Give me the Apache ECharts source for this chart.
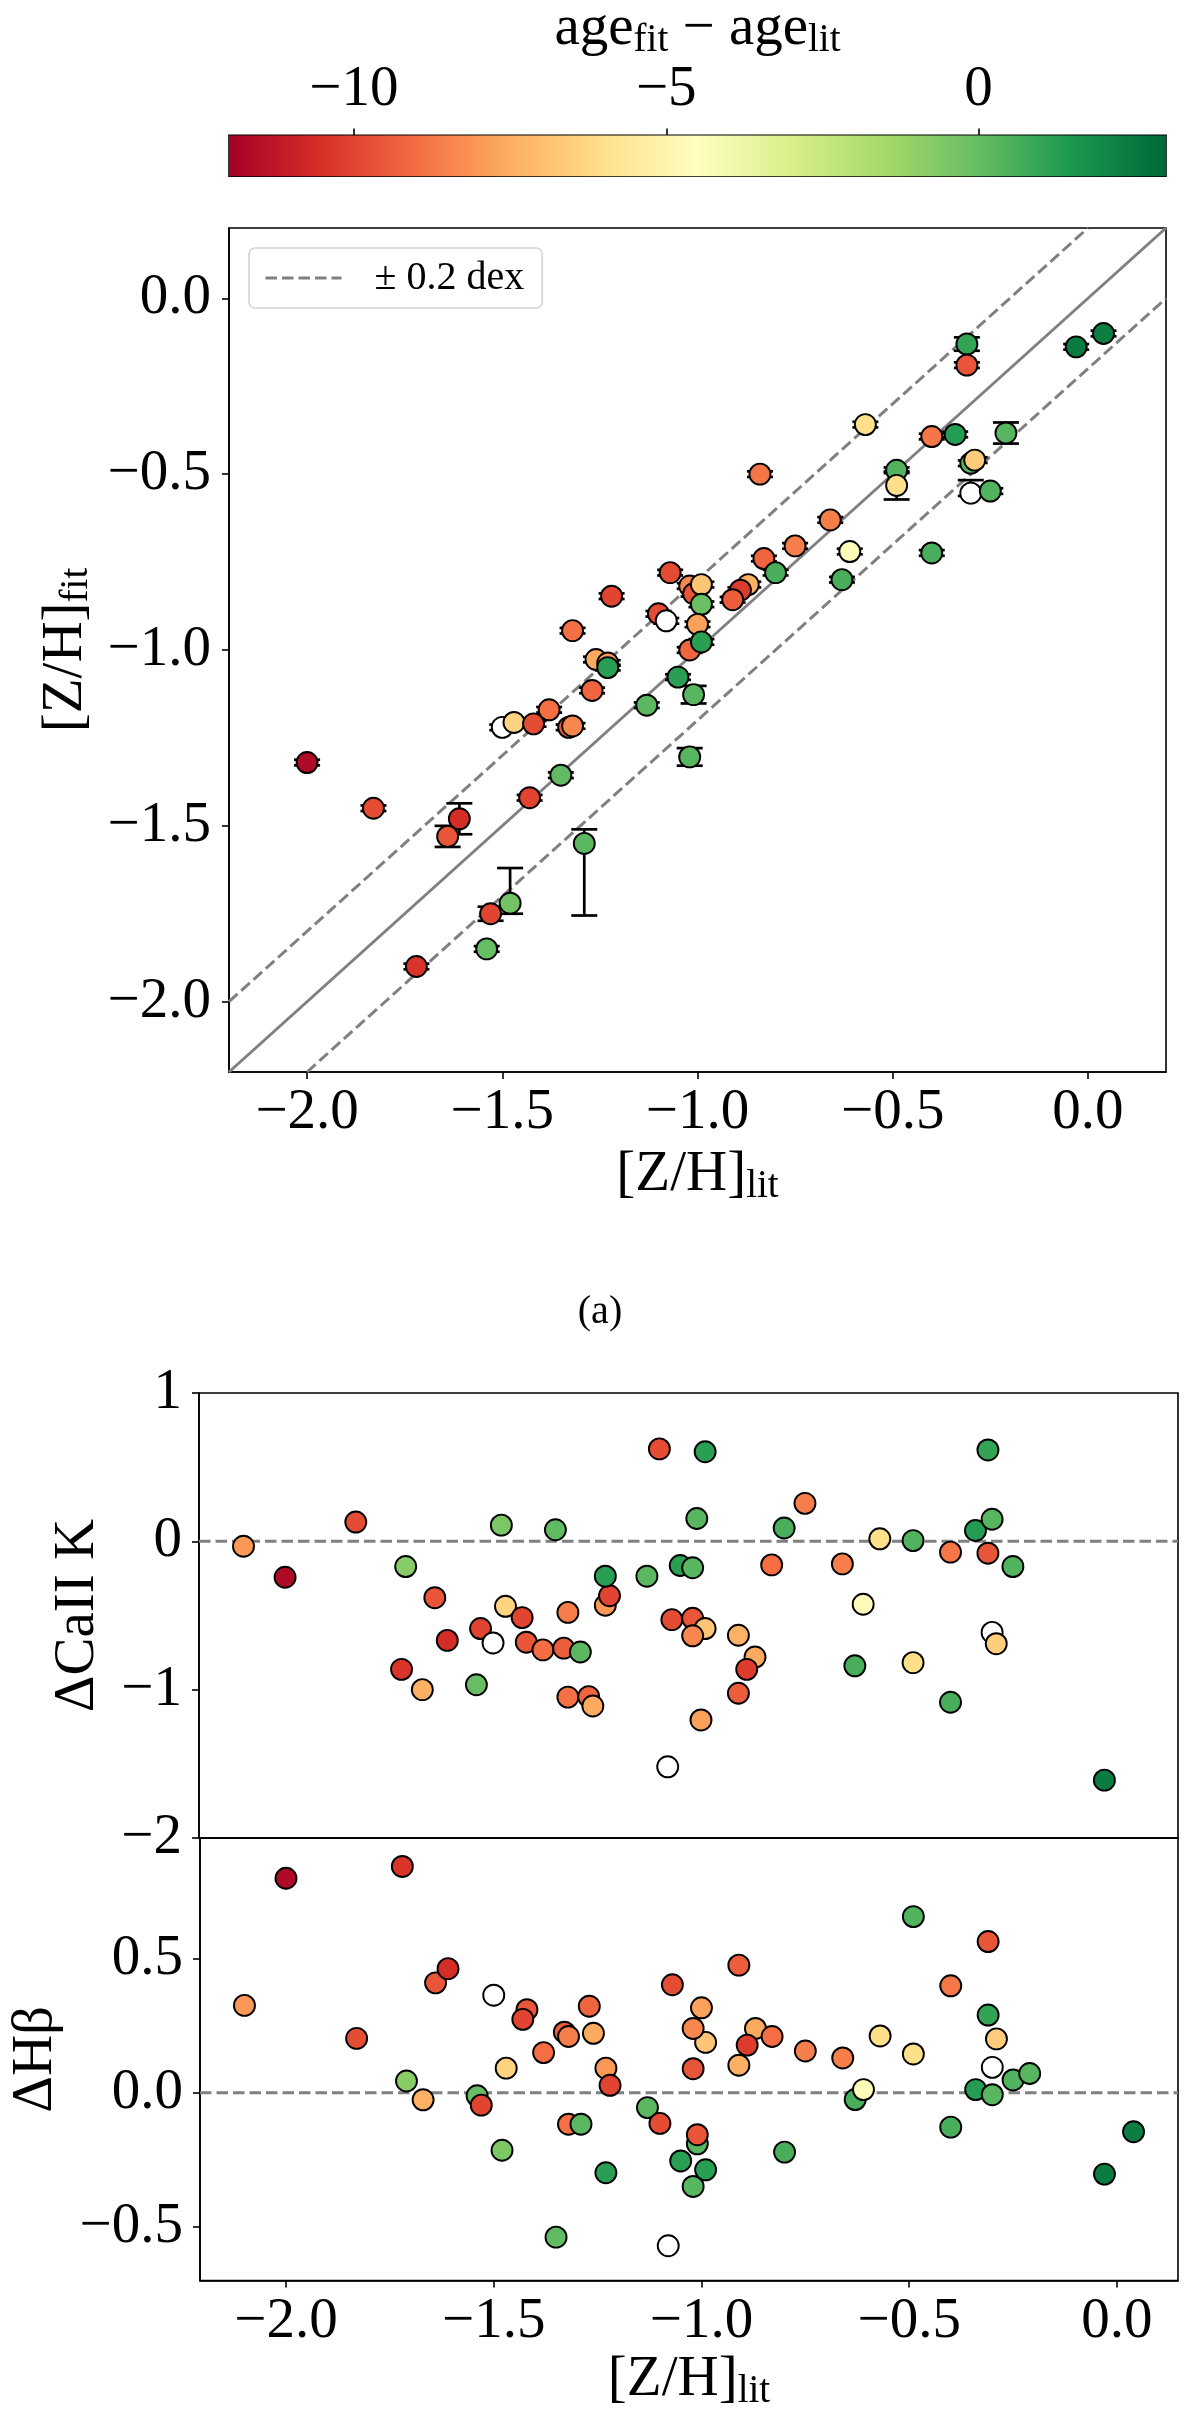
<!DOCTYPE html>
<html><head><meta charset="utf-8">
<script src="https://cdn.jsdelivr.net/npm/echarts@6/dist/echarts.min.js"></script>
<style>html,body{margin:0;padding:0;background:#fff}#c{width:1200px;height:2412px}</style>
</head><body><div id="c"></div>
<script>
// ---------- data ----------
const ageRange = [-12, 3];
const cbTicks = [-10, -5, 0];
const topRange = [-2.2, 0.2];
const topTicks = [-2, -1.5, -1, -0.5, 0];
const lowXRange = [-2.207, 0.147];
const midYRange = [-2, 1];
const botYRange = [-0.7, 0.95];
const botYTicks = [-0.5, 0, 0.5];
const dexOffset = 0.2;
const RdYlGn = ['#a50026','#d73027','#f46d43','#fdae61','#fee08b','#ffffbf','#d9ef8b','#a6d96a','#66bd63','#1a9850','#006837'];

const topLit = [-2.00,-1.83,-1.61,-1.64,-1.72,-1.53,-1.48,-1.54,-1.29,-1.43,
  -1.35,-1.50,-1.47,-1.42,-1.38,-1.33,-1.32,-1.27,-1.26,-1.23,
  -1.23,-1.32,-1.22,-1.13,-1.10,-1.08,-1.07,-1.05,-1.02,-1.01,
  -1.02,-1.02,-1.01,-0.99,-0.99,-1.00,-0.99,-0.84,-0.83,-0.80,
  -0.87,-0.89,-0.91,-0.75,-0.66,-0.63,-0.61,-0.57,-0.49,-0.49,
  -0.40,-0.34,-0.40,-0.31,-0.31,-0.30,-0.29,-0.30,-0.25,-0.21,
  -0.03,0.04];
const topFit = [-1.32,-1.45,-1.48,-1.53,-1.90,-1.75,-1.72,-1.85,-1.55,-1.42,
  -1.356,-1.22,-1.206,-1.21,-1.17,-1.22,-1.216,-1.115,-1.027,-1.037,
  -1.05,-0.945,-0.847,-1.157,-0.897,-0.917,-0.78,-1.077,-1.00,-1.127,
  -1.304,-0.818,-0.84,-0.814,-0.87,-0.927,-0.977,-0.50,-0.74,-0.78,
  -0.814,-0.83,-0.857,-0.704,-0.63,-0.80,-0.72,-0.359,-0.489,-0.532,
  -0.393,-0.387,-0.724,-0.13,-0.19,-0.469,-0.46,-0.554,-0.548,-0.383,
  -0.138,-0.10];
const topAge = [-11.7,-9.8,-10.6,-9.6,-10.4,-10.0,-0.3,0,0.2,-10.0,
  0.1,null,-6.4,-9.8,-9.0,-9.4,-8.4,-9.2,-7.6,-8.0,
  1.2,-8.9,-10.0,0.2,-9.8,null,-9.8,1.2,-9.2,0.3,
  0.3,-8.4,-9.6,-6.8,-0.1,-7.8,1.2,-8.8,-9.2,0.6,
  -7.4,-10.2,-9.4,-8.6,-8.6,0.6,-4.7,-6.0,0.4,-6.0,
  -8.8,1.3,0.6,1.0,-9.6,0.3,-6.6,null,0.4,0.3,
  2.4,2.3];
const topErrLo = [0.008,0.008,0.044,0.03,0.008,0.02,0.03,0.008,0.205,0.008,
  0.008,0.008,0.008,0.008,0.008,0.008,0.008,0.008,0.008,0.008,
  0.008,0.008,0.008,0.008,0.008,0.008,0.008,0.008,0.008,0.025,
  0.025,0.008,0.008,0.008,0.008,0.008,0.008,0.008,0.008,0.008,
  0.008,0.008,0.008,0.008,0.008,0.008,0.008,0.008,0.008,0.04,
  0.008,0.008,0.008,0.019,0.008,0.008,0.008,0.008,0.008,0.03,
  0.008,0.008];
const topErrHi = [0.008,0.008,0.044,0.03,0.008,0.02,0.10,0.008,0.04,0.008,
  0.008,0.008,0.008,0.008,0.008,0.008,0.008,0.008,0.008,0.008,
  0.008,0.008,0.008,0.008,0.008,0.008,0.008,0.008,0.008,0.025,
  0.025,0.008,0.008,0.008,0.008,0.008,0.008,0.008,0.008,0.008,
  0.008,0.008,0.008,0.008,0.008,0.008,0.008,0.008,0.008,0.04,
  0.008,0.008,0.008,0.019,0.008,0.008,0.008,0.037,0.008,0.03,
  0.008,0.008];

const midLit = [-2.10,-2.00,-1.83,-1.71,-1.64,-1.61,-1.72,-1.67,-1.54,-1.53,
  -1.50,-1.48,-1.47,-1.43,-1.42,-1.38,-1.35,-1.33,-1.32,-1.29,
  -1.32,-1.27,-1.26,-1.23,-1.22,-1.23,-1.13,-1.10,-1.08,-1.07,
  -1.05,-1.02,-1.01,-0.99,-1.02,-0.99,-1.02,-1.00,-0.91,-0.87,
  -0.89,-0.91,-0.83,-0.80,-0.75,-0.66,-0.63,-0.61,-0.57,-0.49,
  -0.49,-0.40,-0.40,-0.34,-0.31,-0.30,-0.31,-0.30,-0.29,-0.25,
  -0.03];
const midCaK = [-0.033,-0.242,0.13,-0.17,-0.38,-0.668,-0.863,-1.0,-0.967,-0.588,
  -0.685,0.109,-0.438,-0.514,-0.68,-0.732,0.078,-0.72,-0.479,-0.746,
  -1.05,-1.047,-1.11,-0.431,-0.367,-0.235,-0.235,0.623,-1.52,-0.528,
  -0.163,-0.178,0.154,0.604,-0.519,-0.588,-0.637,-1.204,-0.633,-0.78,
  -0.863,-1.024,-0.159,0.09,0.256,-0.152,-0.839,-0.424,0.017,0.005,
  -0.818,-0.073,-1.085,0.073,0.616,0.149,-0.08,-0.614,-0.69,-0.17,
  -1.61];
const midAge = [-8.0,-11.7,-9.8,-0.8,-9.6,-10.6,-10.4,-7.4,0,-10.0,
  null,-0.5,-6.4,-10.0,-9.6,-9.0,0.1,-9.4,-8.6,0.2,
  -8.9,-9.2,-7.6,-8.0,-10.0,1.2,0.2,-9.8,null,-9.8,
  1.2,0.3,0.3,1.2,-9.6,-6.8,-8.4,-7.8,-7.4,-7.6,
  -10.2,-9.4,-9.0,0.6,-8.6,-8.6,0.6,-4.7,-6.0,0.4,
  -6.0,-8.8,0.6,1.3,1.0,0.3,-9.6,null,-6.6,0.4,
  2.4];

const botLit = [-2.10,-2.00,-1.83,-1.72,-1.71,-1.67,-1.64,-1.61,-1.54,-1.53,
  -1.50,-1.48,-1.47,-1.42,-1.43,-1.38,-1.35,-1.33,-1.32,-1.32,
  -1.29,-1.27,-1.26,-1.23,-1.22,-1.23,-1.13,-1.10,-1.08,-1.07,
  -1.05,-1.02,-1.01,-0.99,-1.02,-0.99,-1.02,-1.00,-0.91,-0.87,
  -0.89,-0.91,-0.83,-0.80,-0.75,-0.66,-0.63,-0.61,-0.57,-0.49,
  -0.49,-0.40,-0.40,-0.34,-0.31,-0.30,-0.31,-0.30,-0.29,-0.25,
  -0.21,-0.03,0.04,-1.01];
const botHb = [0.326,0.80,0.203,0.844,0.044,-0.026,0.41,0.463,-0.011,-0.046,
  0.364,-0.214,0.092,0.31,0.274,0.15,-0.538,0.226,0.21,-0.117,
  -0.117,0.323,0.222,0.092,0.028,-0.298,-0.055,-0.114,-0.57,0.403,
  -0.254,-0.349,-0.19,-0.287,0.09,0.188,0.24,0.317,0.103,0.24,
  0.178,0.476,0.21,-0.221,0.156,0.13,-0.025,0.012,0.212,0.657,
  0.145,0.399,-0.128,0.012,0.29,-0.007,0.564,0.095,0.201,0.048,
  0.072,-0.303,-0.145,-0.156];
const botAge = [-8.0,-11.7,-9.8,-10.4,-0.8,-7.4,-9.6,-10.6,0,-10.0,
  null,-0.5,-6.4,-9.6,-10.0,-9.0,0.1,-9.4,-8.6,-8.9,
  0.2,-9.2,-7.6,-8.0,-10.0,1.2,0.2,-9.8,null,-9.8,
  1.2,0.3,0.3,1.2,-9.6,-6.8,-8.4,-7.8,-7.4,-7.6,
  -10.2,-9.4,-9.0,0.6,-8.6,-8.6,0.6,-4.7,-6.0,0.4,
  -6.0,-8.8,0.6,1.3,1.0,0.3,-9.6,null,-6.6,0.4,
  0.3,2.4,2.3,-9.6];

// ---------- helpers ----------
const FONT = "'Liberation Serif', 'DejaVu Serif', serif";
const TICK = 57, SUB = 39;
function hex2rgb(h){return [1,3,5].map(i=>parseInt(h.substr(i,2),16));}
function ageColor(v){
  if (v === null || v === undefined) return '#ffffff';
  let t = (v - ageRange[0]) / (ageRange[1] - ageRange[0]);
  t = Math.max(0, Math.min(1, t));
  const p = t * (RdYlGn.length - 1);
  const i = Math.min(Math.floor(p), RdYlGn.length - 2);
  const f = p - i;
  const a = hex2rgb(RdYlGn[i]), b = hex2rgb(RdYlGn[i+1]);
  const c = a.map((x,k)=>Math.round(x + (b[k]-x)*f));
  return 'rgb(' + c.join(',') + ')';
}
const minus = s => String(s).replace(/-/g, '\u2212');
const fmt1 = v => minus((Math.abs(v) < 1e-9 ? 0 : v).toFixed(1));
const fmt0 = v => minus((Math.abs(v) < 1e-9 ? 0 : v).toFixed(0));
const rich = {
  n: {fontFamily: FONT, fontSize: TICK, color: '#000'},
  s: {fontFamily: FONT, fontSize: SUB, color: '#000', padding: [23,0,0,0]}
};
const axisLine = {show: true, onZero: false, lineStyle: {color: '#000', width: 1.6}};
const tickStyle = {lineStyle: {color: '#000', width: 1.6}, length: 7, inside: false};
const labelBase = {fontFamily: FONT, fontSize: TICK, color: '#000'};
const gridBorder = {show: true, borderColor: '#000', borderWidth: 1.6, backgroundColor: 'transparent'};

function scatterData(xs, ys, ages){
  return xs.map((x,i)=>({value:[x, ys[i]], itemStyle:{color: ageColor(ages[i])}}));
}
function scatter(xi, yi, xs, ys, ages){
  return {type:'scatter', xAxisIndex:xi, yAxisIndex:yi, symbol:'circle', symbolSize:21, z:5,
    itemStyle:{borderColor:'#000', borderWidth:1.9, opacity:1},
    emphasis:{disabled:true}, silent:true, data: scatterData(xs, ys, ages)};
}
const dashStyle = {color:'#808080', width:3, type:[11.5,5]};

const option = {
  animation: false,
  backgroundColor: '#fff',
  grid: [
    Object.assign({left:229, top:128.7, width:937, height:47.5}, gridBorder),
    Object.assign({left:229, top:228, width:937, height:844}, gridBorder),
    Object.assign({left:199, top:1393, width:979, height:445}, gridBorder),
    Object.assign({left:199, top:1838, width:979, height:445}, gridBorder)
  ],
  xAxis: [
    {gridIndex:0, type:'value', position:'top', min:ageRange[0], max:ageRange[1],
     axisLine, splitLine:{show:false},
     axisTick:Object.assign({customValues:cbTicks}, tickStyle),
     axisLabel:Object.assign({customValues:cbTicks, margin:17, formatter:fmt0}, labelBase),
     name:'{n|age}{s|fit}{n| \u2212 age}{s|lit}', nameLocation:'middle', nameGap:64,
     nameTextStyle:{rich}},
    {gridIndex:1, type:'value', min:topRange[0], max:topRange[1],
     axisLine, splitLine:{show:false},
     axisTick:Object.assign({customValues:topTicks}, tickStyle),
     axisLabel:Object.assign({customValues:topTicks, margin:13, formatter:fmt1}, labelBase),
     name:'{n|[Z/H]}{s|lit}', nameLocation:'middle', nameGap:72, nameTextStyle:{rich}},
    {gridIndex:2, type:'value', min:lowXRange[0], max:lowXRange[1],
     axisLine, splitLine:{show:false}, axisTick:{show:false}, axisLabel:{show:false}},
    {gridIndex:3, type:'value', min:lowXRange[0], max:lowXRange[1],
     axisLine, splitLine:{show:false},
     axisTick:Object.assign({customValues:topTicks}, tickStyle),
     axisLabel:Object.assign({customValues:topTicks, margin:13, formatter:fmt1}, labelBase),
     name:'{n|[Z/H]}{s|lit}', nameLocation:'middle', nameGap:67, nameTextStyle:{rich}}
  ],
  yAxis: [
    {gridIndex:0, type:'value', min:0, max:1, show:false},
    {gridIndex:1, type:'value', min:topRange[0], max:topRange[1],
     axisLine, splitLine:{show:false},
     axisTick:Object.assign({customValues:topTicks}, tickStyle),
     axisLabel:Object.assign({customValues:topTicks, margin:18, formatter:fmt1}, labelBase),
     name:'{n|[Z/H]}{s|fit}', nameLocation:'middle', nameGap:132, nameRotate:90, nameTextStyle:{rich}},
    {gridIndex:2, type:'value', min:midYRange[0], max:midYRange[1], interval:1,
     axisLine, splitLine:{show:false},
     axisTick:tickStyle,
     axisLabel:Object.assign({margin:17, formatter:fmt0}, labelBase),
     name:'\u0394CaII K', nameLocation:'middle', nameGap:92, nameRotate:90,
     nameTextStyle:{fontFamily:FONT, fontSize:TICK, color:'#000'}},
    {gridIndex:3, type:'value', min:botYRange[0], max:botYRange[1],
     axisLine, splitLine:{show:false},
     axisTick:Object.assign({customValues:botYTicks}, tickStyle),
     axisLabel:Object.assign({customValues:botYTicks, margin:17, formatter:fmt1}, labelBase),
     name:'\u0394H\u03b2', nameLocation:'middle', nameGap:135, nameRotate:90,
     nameTextStyle:{fontFamily:FONT, fontSize:TICK, color:'#000'}}
  ],
  legend: {
    data:['\u00b1 0.2 dex'], left:249, top:248, orient:'horizontal',
    itemWidth:76, itemHeight:14, padding:[10,18,10,15],
    borderColor:'#d4d4d4', borderWidth:1.6, borderRadius:6, backgroundColor:'rgba(255,255,255,0.8)',
    itemStyle:{opacity:0},
    lineStyle:{color:'#808080', width:3, type:[11.5,5]},
    textStyle:{fontFamily:FONT, fontSize:40, color:'#000', padding:[0,0,0,28]},
    selectedMode:false
  },
  graphic: [
    {type:'text', x:600, y:1312, style:{text:'(a)', font:'40px ' + FONT, fill:'#000', align:'center', verticalAlign:'middle'}}
  ],
  series: [
    {type:'custom', xAxisIndex:0, yAxisIndex:0, silent:true, data:[[ageRange[0], ageRange[1]]],
     renderItem(params, api){
       const p0 = api.coord([api.value(0), 0]);
       const p1 = api.coord([api.value(1), 1]);
       return {type:'rect', shape:{x:p0[0], y:p1[1], width:p1[0]-p0[0], height:p0[1]-p1[1]},
         style:{fill:new echarts.graphic.LinearGradient(0,0,1,0,
           RdYlGn.map((c,i)=>({offset:i/(RdYlGn.length-1), color:c})))}};
     }},
    {type:'line', name:'one2one', xAxisIndex:1, yAxisIndex:1, symbol:'none', silent:true, z:1,
     lineStyle:{color:'#808080', width:3},
     data:[[topRange[0], topRange[0]], [topRange[1], topRange[1]]]},
    {type:'line', name:'\u00b1 0.2 dex', xAxisIndex:1, yAxisIndex:1, symbol:'none', showSymbol:false, silent:true, z:1,
     lineStyle:dashStyle, itemStyle:{color:'#808080'},
     data:[[topRange[0], topRange[0]+dexOffset], [topRange[1]-dexOffset, topRange[1]]]},
    {type:'line', name:'lower', xAxisIndex:1, yAxisIndex:1, symbol:'none', silent:true, z:1,
     lineStyle:dashStyle,
     data:[[topRange[0]+dexOffset, topRange[0]], [topRange[1], topRange[1]-dexOffset]]},
    {type:'custom', xAxisIndex:1, yAxisIndex:1, silent:true, z:4,
     encode:{x:0, y:[1,2]},
     data: topLit.map((x,i)=>[x, topFit[i]-topErrLo[i], topFit[i]+topErrHi[i]]),
     renderItem(params, api){
       const x = api.value(0);
       const pl = api.coord([x, api.value(1)]), ph = api.coord([x, api.value(2)]);
       const cw = 13, st = {stroke:'#000', lineWidth:2.7};
       return {type:'group', children:[
         {type:'line', shape:{x1:pl[0], y1:pl[1], x2:ph[0], y2:ph[1]}, style:st},
         {type:'line', shape:{x1:pl[0]-cw, y1:pl[1], x2:pl[0]+cw, y2:pl[1]}, style:st},
         {type:'line', shape:{x1:ph[0]-cw, y1:ph[1], x2:ph[0]+cw, y2:ph[1]}, style:st}
       ]};
     }},
    scatter(1, 1, topLit, topFit, topAge),
    {type:'line', name:'zero2', xAxisIndex:2, yAxisIndex:2, symbol:'none', silent:true, z:1,
     lineStyle:dashStyle, data:[[lowXRange[0], 0], [lowXRange[1], 0]]},
    scatter(2, 2, midLit, midCaK, midAge),
    {type:'line', name:'zero3', xAxisIndex:3, yAxisIndex:3, symbol:'none', silent:true, z:1,
     lineStyle:dashStyle, data:[[lowXRange[0], 0], [lowXRange[1], 0]]},
    scatter(3, 3, botLit, botHb, botAge)
  ]
};
const chart = echarts.init(document.getElementById('c'), null, {renderer:'canvas'});
chart.setOption(option);
</script></body></html>
